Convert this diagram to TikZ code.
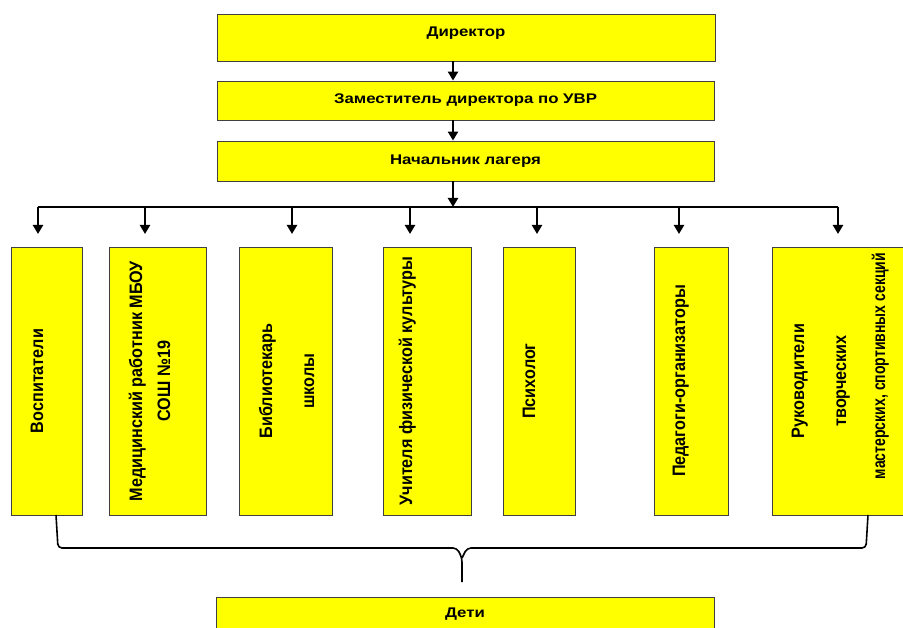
\documentclass[tikz,border=0pt]{standalone}
\usepackage{fontspec}
\newfontfamily\hfont[FakeStretch=1.2]{Liberation Sans}
\newfontfamily\vfont[FakeStretch=0.9]{Liberation Sans}
\newfontfamily\vnfont[FakeStretch=0.78]{Liberation Sans}
\usetikzlibrary{arrows.meta,calc}
\definecolor{boxyellow}{RGB}{255,255,0}

\begin{document}
\begin{tikzpicture}[x=1pt,y=-1pt,
	box/.style={draw=black!75,fill=boxyellow,line width=0.8pt,inner sep=0pt},
	hbox/.style={box,font=\hfont\bfseries\fontsize{14}{16}\selectfont},
	vtext/.style={rotate=90,anchor=north,inner sep=0pt,align=center,
		font=\vfont\bfseries\fontsize{18}{28}\selectfont},
	arr/.style={line width=2.4pt,-{Triangle[width=10pt,length=9pt]}},
	bus/.style={line width=1.4pt},
	brc/.style={line width=1.6pt,rounded corners=4pt}]
	%Page size 903 x 628, y goes down
	\clip (0,0) rectangle (903,628);
	\fill[white] (0,0) rectangle (903,628);

	%Top of the chart
	\node[hbox,minimum width=498,minimum height=47,text depth=12pt] (dir) at (466,37.5) {Директор};
	\node[hbox,minimum width=497,minimum height=39] (zam) at (465.5,100.5) {Заместитель директора по УВР};
	\node[hbox,minimum width=497,minimum height=40] (nach) at (465.5,161) {Начальник лагеря};

	%Children box, cut by the page
	\node[hbox,minimum width=498,minimum height=34] (deti) at (465,614) {Дети};

	%The staff boxes (y from 247 to 515)
	\foreach \n/\c/\w in {voss/46.5/71,med/157.5/97,bib/285.5/93,fiz/427/88,psy/539/72,ped/691/74,ruk/838.5/133}
		\node[box,minimum width=\w,minimum height=268] (\n) at (\c,381) {};

	%Texts of the staff boxes
	\node[vtext] (tvoss) at ($(voss.west)+(20,0)$) {Воспитатели};
	\node[vtext] (tmed) at ($(med.west)+(20,0)$) {Медицинский работник МБОУ\\СОШ №19};
	\node[vtext] (tbib) at ($(bib.west)+(20,0)$) {Библиотекарь\\[14pt]школы};
	\node[vtext] (tfiz) at ($(fiz.west)+(16,0)$) {Учителя физической культуры};
	\node[vtext] (tpsy) at ($(psy.west)+(20,0)$) {Психолог};
	\node[vtext] (tped) at ($(ped.west)+(19,0)$) {Педагоги-организаторы};
	\node[vtext] (truk) at ($(ruk.west)+(20,0)$) {Руководители\\[14pt]творческих\\[11pt]%
		\hspace*{30pt}{\vnfont мастерских, спортивных секций}};

	%Arrows down the middle
	\coordinate (bus) at (453,207);
	\draw[arr] (dir.south -| bus) -- (zam.north -| bus);
	\draw[arr] (zam.south -| bus) -- (nach.north -| bus);
	\draw[arr] (nach.south -| bus) -- (bus);

	%Bus line and the arrows to the staff
	\draw[bus] (38,207) -- (838,207);
	\foreach \x in {38,145,292,410,537,679,838}
		\draw[arr] (\x,207) -- (\x,234);

	%Brace over the children
	\coordinate (brtip) at (462,582);
	\draw[brc] (56,515) -- (58,548) -- (457,548) -- (462,558) -- (brtip);
	\draw[brc] (868,515) -- (866,548) -- (467,548) -- (462,558);
\end{tikzpicture}
\end{document}
